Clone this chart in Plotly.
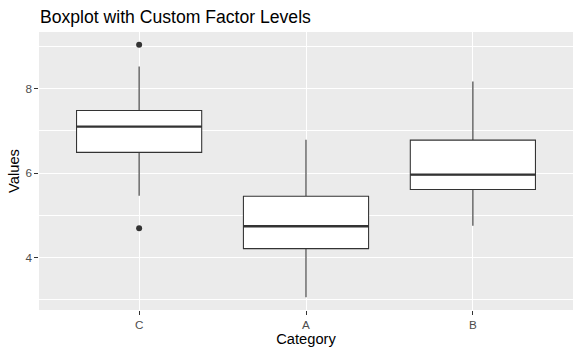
import plotly.graph_objects as go

categories = ["C", "A", "B"]
q1_vals = [6.49, 4.21, 5.61]
median_vals = [7.10, 4.74, 5.96]
q3_vals = [7.48, 5.45, 6.78]
lower_vals = [5.46, 3.06, 4.75]
upper_vals = [8.52, 6.79, 8.17]
outlier_cat = ["C", "C"]
outlier_vals = [9.04, 4.69]

xpos = list(range(len(categories)))
idx = {c: i for i, c in enumerate(categories)}
box_w = 0.75

fig = go.Figure()
fig.add_trace(go.Box(
    x=xpos, q1=q1_vals, median=median_vals, q3=q3_vals,
    lowerfence=lower_vals, upperfence=upper_vals,
    width=box_w, fillcolor="white", line=dict(color="#333333", width=1.07),
    whiskerwidth=0, boxpoints=False, showlegend=False, hoverinfo="skip",
))
# thicker median lines (ggplot style)
for i, m in enumerate(median_vals):
    fig.add_trace(go.Scatter(
        x=[xpos[i] - box_w / 2, xpos[i] + box_w / 2], y=[m, m], mode="lines",
        line=dict(color="#333333", width=2.3), showlegend=False, hoverinfo="skip",
    ))
fig.add_trace(go.Scatter(
    x=[idx[c] for c in outlier_cat], y=outlier_vals, mode="markers",
    marker=dict(color="#333333", size=6), showlegend=False, hoverinfo="skip",
))

fig.update_layout(
    width=581, height=355,
    margin=dict(l=39, r=8, t=32, b=45),
    paper_bgcolor="white", plot_bgcolor="#EBEBEB",
    font=dict(family="Liberation Sans, Arial, sans-serif"),
    title=dict(text="Boxplot with Custom Factor Levels", x=40 / 581, xanchor="left",
               y=1 - 17 / 355, yanchor="middle",
               font=dict(size=17.6, color="black")),
    xaxis=dict(
        range=[-0.6, len(categories) - 0.4], tickvals=xpos, ticktext=categories,
        showgrid=True, gridcolor="white", gridwidth=1.07, zeroline=False,
        ticks="outside", ticklen=3.7, tickwidth=1.07, tickcolor="#333333",
        tickfont=dict(size=11.7, color="#4D4D4D"), automargin=False,
        title=dict(text="Category", font=dict(size=14.7, color="black"), standoff=2),
        showline=False,
    ),
    yaxis=dict(
        range=[2.756, 9.34], tickvals=[4, 6, 8], ticktext=["4", "6", "8"],
        showgrid=True, gridcolor="white", gridwidth=1.07, zeroline=False,
        ticks="outside", ticklen=3.7, tickwidth=1.07, tickcolor="#333333",
        tickfont=dict(size=11.7, color="#4D4D4D"), automargin=False,
        minor=dict(tickvals=[3, 5, 7, 9], showgrid=True, gridcolor="white", gridwidth=0.53, ticks=""),
        title=dict(text="Values", font=dict(size=14.7, color="black"), standoff=2),
        showline=False,
    ),
)
fig.write_html("out.html", config={"displayModeBar": False},
               post_script="document.body.style.margin='0';document.body.style.padding='0';")
